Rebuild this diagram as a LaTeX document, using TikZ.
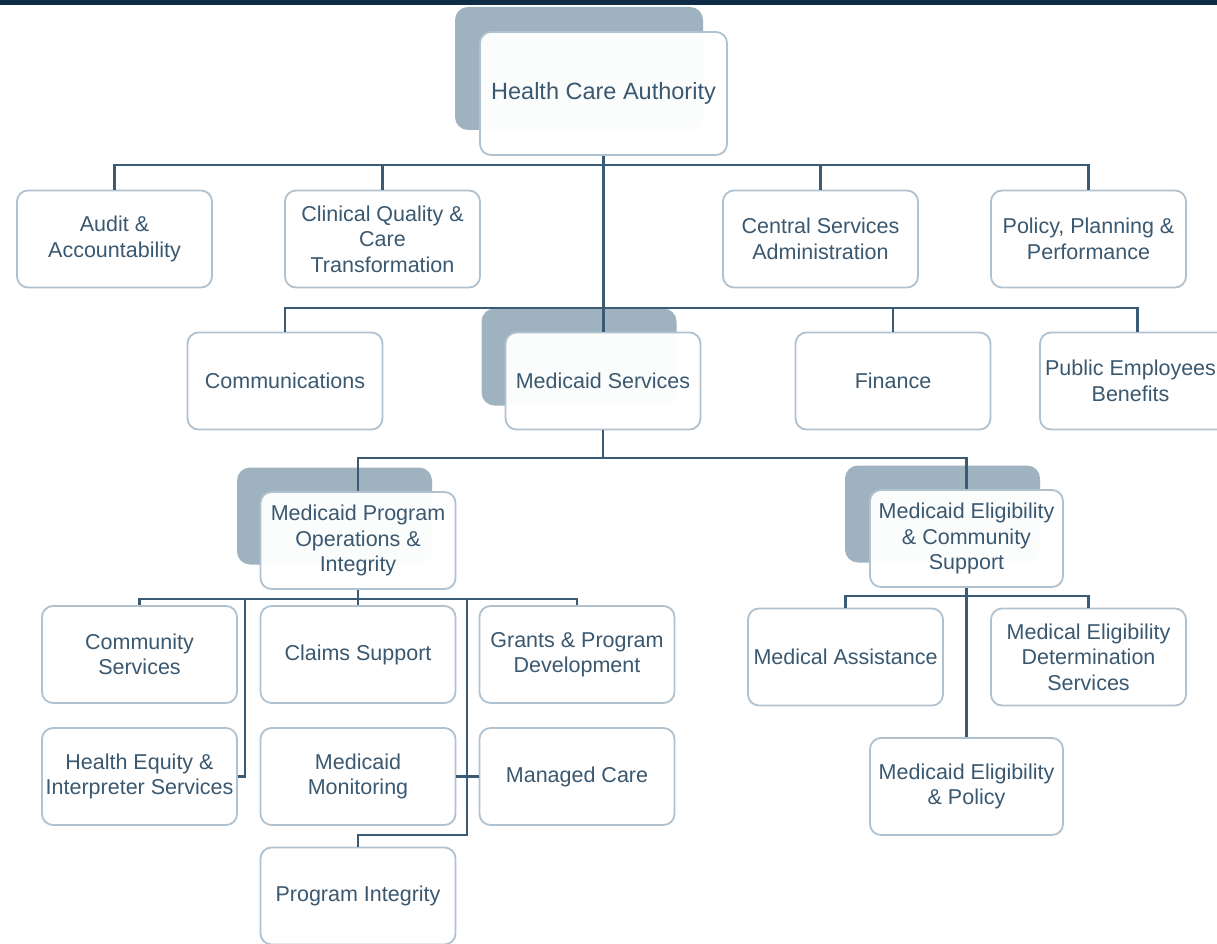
\documentclass[tikz,border=0pt]{standalone}
\usepackage{fontspec}
\setmainfont{Liberation Sans}
\definecolor{linec}{HTML}{3B5A73}
\definecolor{boxc}{HTML}{B0C2CF}
\definecolor{shc}{HTML}{9FB2C0}
\definecolor{txtc}{HTML}{3A5870}
\definecolor{barc}{HTML}{0F2B45}
\begin{document}
\begin{tikzpicture}[x=1pt,y=-1pt,
  box/.style={draw=boxc, line width=1.8pt, rounded corners=11pt, fill=white,
    inner sep=0pt, align=center, text=txtc,
    font=\fontsize{21.5}{25.5}\selectfont,
    minimum width=195pt, minimum height=97pt},
  topbox/.style={box, fill opacity=0.965, text opacity=1},
  shadowbox/.style={fill=shc, rounded corners=13pt, inner sep=0pt,
    minimum width=195pt, minimum height=97pt},
  conn/.style={draw=linec, line width=2.4pt}]
\useasboundingbox (0,0) rectangle (1217,944);
\clip (0,0) rectangle (1217,944);
\fill[white] (0,0) rectangle (1217,944);
\fill[barc] (0,0) rectangle (1217,5);

% shadows
\node[shadowbox, minimum width=248pt, minimum height=123pt] (hcash) at (579,68.5) {};
\node[shadowbox] (mssh) at (579,357) {};
\node[shadowbox] (mposh) at (334.5,516) {};
\node[shadowbox] (mecsh) at (942.5,514) {};

% boxes
\node[topbox, minimum width=247pt, minimum height=123pt, font=\fontsize{23.5}{28}\selectfont] (hca) at (603.5,93.5) {Health Care Authority};
\node[box] (aud) at (114.5,239) {Audit \&\\Accountability};
\node[box] (clin) at (382.5,239) {Clinical Quality \&\\Care\\Transformation};
\node[box] (cent) at (820.5,239) {Central Services\\Administration};
\node[box] (pol) at (1088.5,239) {Policy, Planning \&\\Performance};

\node[box] (com) at (285,381) {Communications};
\node[topbox] (ms) at (603,381) {Medicaid Services};
\node[box] (fin) at (893,381) {Finance};
\node[box] (peb) at (1137.5,381) {Public Employees\hspace*{14pt}\\Benefits\hspace*{14pt}};

\node[topbox] (mpoi) at (358,540.5) {Medicaid Program\\Operations \&\\Integrity};
\node[topbox, minimum width=193pt] (mecs) at (966.5,538.5) {Medicaid Eligibility\\\& Community\\Support};

\node[box] (cs) at (139.5,654.5) {Community\\Services};
\node[box] (cls) at (358,654.5) {Claims Support};
\node[box] (gr) at (577,654.5) {Grants \& Program\\Development};
\node[box] (he) at (139.5,776.5) {Health Equity \&\\Interpreter Services};
\node[box] (mm) at (358,776.5) {Medicaid\\Monitoring};
\node[box] (mc) at (577,776.5) {Managed Care};
\node[box] (pi) at (358,896) {Program Integrity};

\node[box] (ma) at (845.5,657) {Medical Assistance};
\node[box] (meds) at (1088.5,657) {Medical Eligibility\\Determination\\Services};
\node[box, minimum width=193pt] (mep) at (966.5,786.5) {Medicaid Eligibility\\\& Policy};

% connector junctions
\coordinate (r1) at (603,165);
\coordinate (r2) at (603,308);
\coordinate (r3) at (603,458);
\coordinate (r4) at (358,599);
\coordinate (r5) at (966,596);
\coordinate (v1) at (245,599);
\coordinate (v2) at (467,599);
\coordinate (e1) at (467,835);

% connectors
\draw[conn] (hca.south) -- (hca.south |- ms.north);
\draw[conn] (aud.north) -- (aud.north |- r1) -- (pol.north |- r1) -- (pol.north);
\draw[conn] (clin.north) -- (clin.north |- r1);
\draw[conn] (cent.north) -- (cent.north |- r1);
\draw[conn] (com.north) -- (com.north |- r2) -- (peb.north |- r2) -- (peb.north);
\draw[conn] (fin.north) -- (fin.north |- r2);
\draw[conn] (ms.south) -- (ms.south |- r3);
\draw[conn] (mpoi.north) -- (mpoi.north |- r3) -- (mecs.north |- r3) -- (mecs.north);
\draw[conn] (mpoi.south) -- (cls.north);
\draw[conn] (cs.north) -- (cs.north |- r4) -- (gr.north |- r4) -- (gr.north);
\draw[conn] (v1) |- (he.east);
\draw[conn] (v2) -- (e1) -| (pi.north);
\draw[conn] (mm.east) -- (mc.west);
\draw[conn] (mecs.south) -- (mep.north);
\draw[conn] (ma.north) -- (ma.north |- r5) -- (meds.north |- r5) -- (meds.north);
\end{tikzpicture}
\end{document}
